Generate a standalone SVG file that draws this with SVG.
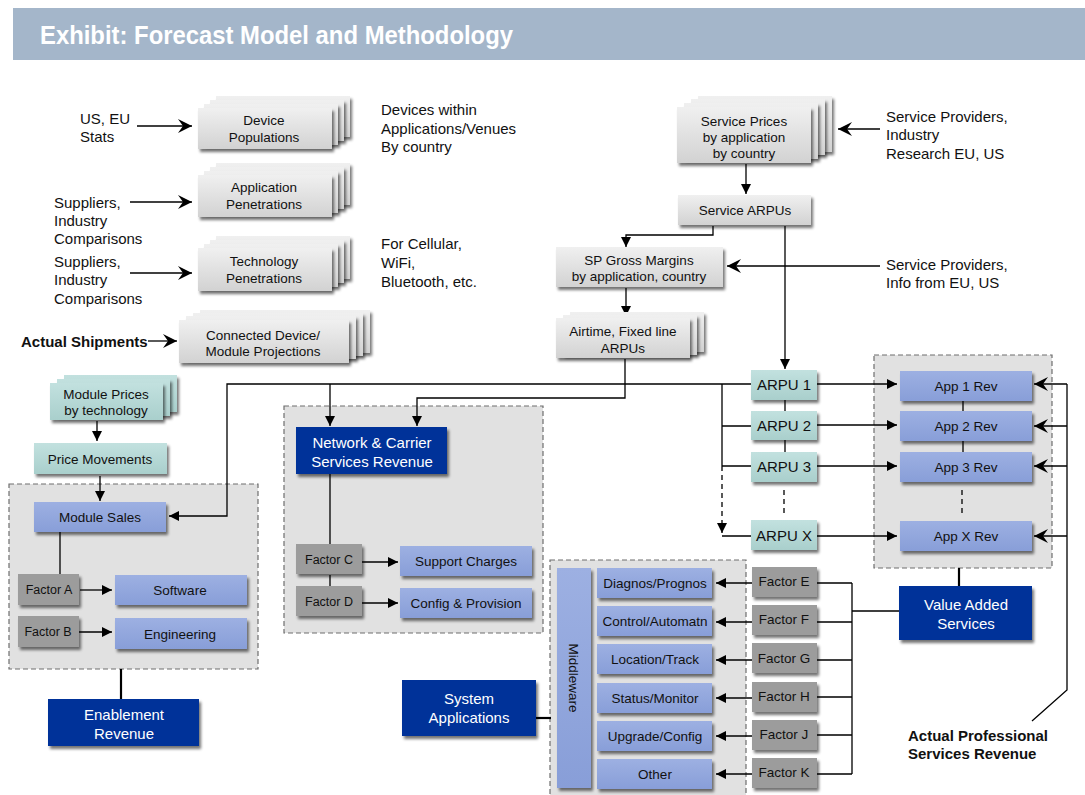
<svg xmlns="http://www.w3.org/2000/svg" width="1085" height="795" viewBox="0 0 1085 795">
  <defs>
    <linearGradient id="gGray" x1="0" y1="0" x2="0" y2="1">
      <stop offset="0" stop-color="#f0f0f0"/>
      <stop offset="1" stop-color="#d2d2d2"/>
    </linearGradient>
    <linearGradient id="gTeal" x1="0" y1="0" x2="0" y2="1">
      <stop offset="0" stop-color="#c2e1df"/>
      <stop offset="1" stop-color="#a9cfcc"/>
    </linearGradient>
    <linearGradient id="gBlue" x1="0" y1="0" x2="0" y2="1">
      <stop offset="0" stop-color="#9db0e2"/>
      <stop offset="1" stop-color="#889ed8"/>
    </linearGradient>
    <filter id="shadow" x="-10%" y="-20%" width="130%" height="160%">
      <feGaussianBlur in="SourceAlpha" stdDeviation="1.8"/>
      <feOffset dx="2" dy="3" result="b"/>
      <feComponentTransfer><feFuncA type="linear" slope="0.55"/></feComponentTransfer>
      <feMerge><feMergeNode/><feMergeNode in="SourceGraphic"/></feMerge>
    </filter>
    <marker id="tri" viewBox="0 0 10 10" refX="10" refY="5" markerWidth="10" markerHeight="10" markerUnits="userSpaceOnUse" orient="auto">
      <path d="M0,0 L10,5 L0,10 z" fill="#000"/>
    </marker>
    <marker id="chev" viewBox="0 0 14 14" refX="14" refY="7" markerWidth="14" markerHeight="14" markerUnits="userSpaceOnUse" orient="auto">
      <path d="M0,0 L14,7 L0,14 L5,7 z" fill="#000"/>
    </marker>
  </defs>
  <style>
    text { font-family: "Liberation Sans", Arial, sans-serif; fill: #111; }
    .c { text-anchor: middle; }
    .b13 { font-size: 13.5px; }
    .b15 { font-size: 15px; }
    .lbl { font-size: 15px; }
    .bold { font-weight: bold; }
    .w { fill: #fff; }
    .gray { fill: url(#gGray); filter: url(#shadow); }
    .teal { fill: url(#gTeal); filter: url(#shadow); }
    .blue { fill: url(#gBlue); filter: url(#shadow); }
    .dark { fill: #003399; filter: url(#shadow); }
    .fac { fill: #9c9c9c; filter: url(#shadow); }
    .cont { fill: #e1e1e1; stroke: #6e6e6e; stroke-width: 1.2; stroke-dasharray: 5 3; }
    .ln { fill: none; stroke: #000; stroke-width: 1.3; }
    .thick { fill: none; stroke: #000; stroke-width: 2.2; }
    .dash { fill: none; stroke: #000; stroke-width: 1.3; stroke-dasharray: 5 4; }
    .arr { marker-end: url(#tri); }
    .chv { marker-end: url(#chev); }
  </style>

  <!-- title banner -->
  <g id="title">
    <rect x="13" y="8" width="1072" height="52" fill="#a4b6ca"/>
    <text x="40" y="44" font-family="'Open Sans', sans-serif" font-weight="600" font-size="25" style="fill:#fff" textLength="473" lengthAdjust="spacingAndGlyphs">Exhibit: Forecast Model and Methodology</text>
  </g>

  <!-- dashed containers -->
  <g id="containers">
    <rect class="cont" x="9" y="484" width="249" height="185"/>
    <rect class="cont" x="284" y="406" width="259" height="227"/>
    <rect class="cont" x="874" y="355" width="178" height="213"/>
    <rect class="cont" x="550" y="560" width="196" height="245"/>
  </g>

  <!-- source labels -->
  <g id="labels">
    <text class="lbl" x="80" y="124">US, EU</text>
    <text class="lbl" x="80" y="142">Stats</text>
    <text class="lbl" x="54" y="208">Suppliers,</text>
    <text class="lbl" x="54" y="226">Industry</text>
    <text class="lbl" x="54" y="244">Comparisons</text>
    <text class="lbl" x="54" y="267">Suppliers,</text>
    <text class="lbl" x="54" y="285">Industry</text>
    <text class="lbl" x="54" y="304">Comparisons</text>
    <text class="lbl bold" x="21" y="347" font-size="14.5">Actual Shipments</text>
    <text class="lbl" x="381" y="115">Devices within</text>
    <text class="lbl" x="381" y="134">Applications/Venues</text>
    <text class="lbl" x="381" y="152">By country</text>
    <text class="lbl" x="381" y="249">For Cellular,</text>
    <text class="lbl" x="381" y="268">WiFi,</text>
    <text class="lbl" x="381" y="287">Bluetooth, etc.</text>
    <text class="lbl" x="886" y="122">Service Providers,</text>
    <text class="lbl" x="886" y="140">Industry</text>
    <text class="lbl" x="886" y="159">Research EU, US</text>
    <text class="lbl" x="886" y="270">Service Providers,</text>
    <text class="lbl" x="886" y="288">Info from EU, US</text>
    <text class="lbl bold" x="908" y="741">Actual Professional</text>
    <text class="lbl bold" x="908" y="759">Services Revenue</text>
  </g>

  <!-- connectors -->
  <g id="connectors">
    <path class="ln chv" d="M137,126 H192"/>
    <path class="ln chv" d="M130,202 H192"/>
    <path class="ln chv" d="M130,273 H192"/>
    <path class="ln chv" d="M148,341 H177"/>
    <path class="ln chv" d="M880,129 H838"/>
    <path class="ln chv" d="M880,266 H727"/>
    <path class="ln arr" d="M746,164 V194"/>
    <path class="ln arr" d="M713,226 V235 H626 V247"/>
    <path class="ln arr" d="M785,226 V369"/>
    <path class="ln arr" d="M626,288 V316"/>
    <path class="ln arr" d="M625,359 V398 H417 V426"/>
    <path class="ln arr" d="M752,384 H227 V516 H169"/>
    <path class="ln arr" d="M330,384 V426"/>
    <path class="ln" d="M722,384 V466 M722,426 H752 M722,466 H752 M722,536 H752"/>
    <path class="dash arr" d="M722,466 V533"/>
    <path class="ln" d="M785,400 V452"/>
    <path class="dash" d="M784,490 V513"/>
    <path class="ln arr" d="M817,384 H897"/>
    <path class="ln arr" d="M817,425 H897"/>
    <path class="ln arr" d="M817,466 H897"/>
    <path class="ln arr" d="M817,536 H897"/>
    <path class="ln" d="M963,401 V452"/>
    <path class="dash" d="M962,490 V513"/>
    <path class="ln" d="M1032,721 L1067,690 V384"/>
    <path class="ln chv" d="M1067,384 H1034"/>
    <path class="ln chv" d="M1067,426 H1034"/>
    <path class="ln chv" d="M1067,466 H1034"/>
    <path class="ln chv" d="M1067,536 H1034"/>
    <path class="thick" d="M959,568 V586"/>
    <path class="ln" d="M899,611 H852 M852,583 V774 M817,583 H852 M817,622 H852 M817,660 H852 M817,697 H852 M817,735 H852 M817,774 H852"/>
    <path class="ln arr" d="M752,583 H716"/>
    <path class="ln arr" d="M752,622 H716"/>
    <path class="ln arr" d="M752,660 H716"/>
    <path class="ln arr" d="M752,698 H716"/>
    <path class="ln arr" d="M752,736 H716"/>
    <path class="ln arr" d="M752,774 H716"/>
    <path class="thick" d="M536,718 H551"/>
    <path class="ln arr" d="M97,421 V441"/>
    <path class="ln arr" d="M100,476 V501"/>
    <path class="ln" d="M60,532 V574"/>
    <path class="ln arr" d="M80,590 H112"/>
    <path class="ln arr" d="M78,632 H112"/>
    <path class="thick" d="M121,669 V699"/>
    <path class="ln" d="M330,474 V544 M330,575 V586"/>
    <path class="ln arr" d="M362,562 H398"/>
    <path class="ln arr" d="M362,603 H398"/>
  </g>

  <!-- stacked source nodes -->
  <g id="device-populations">
    <rect class="gray" x="216" y="96" width="134" height="41"/>
    <rect class="gray" x="210" y="100" width="134" height="41"/>
    <rect class="gray" x="204" y="104" width="134" height="41"/>
    <rect class="gray" x="198" y="108" width="134" height="41"/>
    <text class="b13 c" x="264" y="125">Device</text>
    <text class="b13 c" x="264" y="142">Populations</text>
  </g>
  <g id="application-penetrations">
    <rect class="gray" x="216" y="163" width="134" height="42"/>
    <rect class="gray" x="210" y="167" width="134" height="42"/>
    <rect class="gray" x="204" y="171" width="134" height="42"/>
    <rect class="gray" x="198" y="175" width="134" height="42"/>
    <text class="b13 c" x="264" y="192">Application</text>
    <text class="b13 c" x="264" y="209">Penetrations</text>
  </g>
  <g id="technology-penetrations">
    <rect class="gray" x="216" y="236" width="134" height="43"/>
    <rect class="gray" x="210" y="240" width="134" height="43"/>
    <rect class="gray" x="204" y="244" width="134" height="43"/>
    <rect class="gray" x="198" y="248" width="134" height="43"/>
    <text class="b13 c" x="264" y="266">Technology</text>
    <text class="b13 c" x="264" y="283">Penetrations</text>
  </g>
  <g id="connected-device">
    <rect class="gray" x="200" y="310" width="170" height="43"/>
    <rect class="gray" x="193" y="313" width="170" height="43"/>
    <rect class="gray" x="186" y="316" width="170" height="43"/>
    <rect class="gray" x="179" y="320" width="170" height="43"/>
    <text class="b13 c" x="263" y="340">Connected Device/</text>
    <text class="b13 c" x="263" y="356">Module Projections</text>
  </g>
  <g id="service-prices">
    <rect class="gray" x="698" y="96" width="134" height="56"/>
    <rect class="gray" x="691" y="99" width="134" height="56"/>
    <rect class="gray" x="684" y="103" width="134" height="56"/>
    <rect class="gray" x="677" y="107" width="134" height="56"/>
    <text class="b13 c" x="744" y="126">Service Prices</text>
    <text class="b13 c" x="744" y="142">by application</text>
    <text class="b13 c" x="744" y="158">by country</text>
  </g>
  <g id="service-arpus">
    <rect class="gray" x="678" y="195" width="133" height="30"/>
    <text class="b13 c" x="745" y="215">Service ARPUs</text>
  </g>
  <g id="sp-gross-margins">
    <rect class="gray" x="556" y="247" width="167" height="40"/>
    <text class="b13 c" x="639" y="265">SP Gross Margins</text>
    <text class="b13 c" x="639" y="281">by application, country</text>
  </g>
  <g id="airtime-arpus">
    <rect class="gray" x="570" y="312" width="134" height="40"/>
    <rect class="gray" x="563" y="315" width="134" height="40"/>
    <rect class="gray" x="556" y="318" width="134" height="40"/>
    <text class="b13 c" x="623" y="336">Airtime, Fixed line</text>
    <text class="b13 c" x="623" y="353">ARPUs</text>
  </g>

  <!-- enablement branch -->
  <g id="module-prices">
    <rect class="teal" x="64" y="375" width="113" height="37"/>
    <rect class="teal" x="57" y="379" width="113" height="37"/>
    <rect class="teal" x="50" y="383" width="113" height="37"/>
    <text class="b13 c" x="106" y="399">Module Prices</text>
    <text class="b13 c" x="106" y="415">by technology</text>
  </g>
  <g id="price-movements">
    <rect class="teal" x="34" y="443" width="133" height="31"/>
    <text class="b13 c" x="100" y="464">Price Movements</text>
  </g>
  <g id="module-sales">
    <rect class="blue" x="34" y="502" width="132" height="30"/>
    <text class="b13 c" x="100" y="522">Module Sales</text>
  </g>
  <g id="factor-a">
    <rect class="fac" x="18" y="574" width="61" height="31"/>
    <text class="c" font-size="12.5" x="49" y="594">Factor A</text>
  </g>
  <g id="factor-b">
    <rect class="fac" x="18" y="616" width="61" height="31"/>
    <text class="c" font-size="12.5" x="48" y="636">Factor B</text>
  </g>
  <g id="software">
    <rect class="blue" x="115" y="575" width="132" height="30"/>
    <text class="b13 c" x="180" y="595">Software</text>
  </g>
  <g id="engineering">
    <rect class="blue" x="115" y="618" width="132" height="31"/>
    <text class="b13 c" x="180" y="639">Engineering</text>
  </g>
  <g id="enablement-revenue">
    <rect class="dark" x="48" y="699" width="151" height="47"/>
    <text class="b15 c w" x="124" y="720">Enablement</text>
    <text class="b15 c w" x="124" y="739">Revenue</text>
  </g>

  <!-- network & carrier branch -->
  <g id="network-revenue">
    <rect class="dark" x="296" y="427" width="151" height="47"/>
    <text class="b15 c w" x="372" y="448">Network &amp; Carrier</text>
    <text class="b15 c w" x="372" y="467">Services Revenue</text>
  </g>
  <g id="factor-c">
    <rect class="fac" x="296" y="544" width="66" height="30"/>
    <text class="c" font-size="12.5" x="329" y="564">Factor C</text>
  </g>
  <g id="factor-d">
    <rect class="fac" x="296" y="586" width="66" height="30"/>
    <text class="c" font-size="12.5" x="329" y="606">Factor D</text>
  </g>
  <g id="support-charges">
    <rect class="blue" x="400" y="546" width="132" height="30"/>
    <text class="b13 c" x="466" y="566">Support Charges</text>
  </g>
  <g id="config-provision">
    <rect class="blue" x="400" y="588" width="132" height="30"/>
    <text class="b13 c" x="466" y="608">Config &amp; Provision</text>
  </g>

  <!-- ARPU and application revenue -->
  <g id="arpu-1"><rect class="teal" x="751" y="370" width="66" height="30"/><text class="b15 c" x="784" y="390">ARPU 1</text></g>
  <g id="arpu-2"><rect class="teal" x="751" y="411" width="66" height="29"/><text class="b15 c" x="784" y="431">ARPU 2</text></g>
  <g id="arpu-3"><rect class="teal" x="751" y="452" width="66" height="30"/><text class="b15 c" x="784" y="472">ARPU 3</text></g>
  <g id="arpu-x"><rect class="teal" x="751" y="520" width="66" height="30"/><text class="b15 c" x="784" y="541">ARPU X</text></g>
  <g id="app-1"><rect class="blue" x="900" y="371" width="132" height="30"/><text class="b13 c" x="966" y="391">App 1 Rev</text></g>
  <g id="app-2"><rect class="blue" x="900" y="411" width="132" height="30"/><text class="b13 c" x="966" y="431">App 2 Rev</text></g>
  <g id="app-3"><rect class="blue" x="900" y="452" width="132" height="30"/><text class="b13 c" x="966" y="472">App 3 Rev</text></g>
  <g id="app-x"><rect class="blue" x="900" y="521" width="132" height="30"/><text class="b13 c" x="966" y="541">App X Rev</text></g>
  <g id="value-added">
    <rect class="dark" x="899" y="586" width="133" height="54"/>
    <text class="b15 c w" x="966" y="610">Value Added</text>
    <text class="b15 c w" x="966" y="629">Services</text>
  </g>

  <!-- system applications -->
  <g id="system-applications">
    <rect class="dark" x="402" y="680" width="134" height="56"/>
    <text class="b15 c w" x="469" y="704">System</text>
    <text class="b15 c w" x="469" y="723">Applications</text>
  </g>
  <g id="middleware">
    <rect class="blue" x="557" y="568" width="34" height="220"/>
    <text class="b13 c" transform="translate(569,678) rotate(90)">Middleware</text>
  </g>
  <g id="diagnos"><rect class="blue" x="597" y="568" width="115" height="30"/><text class="b13 c" x="655" y="588">Diagnos/Prognos</text></g>
  <g id="control"><rect class="blue" x="597" y="606" width="115" height="30"/><text class="b13 c" x="655" y="626">Control/Automatn</text></g>
  <g id="location"><rect class="blue" x="597" y="644" width="115" height="30"/><text class="b13 c" x="655" y="664">Location/Track</text></g>
  <g id="status"><rect class="blue" x="597" y="683" width="115" height="30"/><text class="b13 c" x="655" y="703">Status/Monitor</text></g>
  <g id="upgrade"><rect class="blue" x="597" y="721" width="115" height="30"/><text class="b13 c" x="655" y="741">Upgrade/Config</text></g>
  <g id="other"><rect class="blue" x="597" y="759" width="115" height="30"/><text class="b13 c" x="655" y="779">Other</text></g>
  <g id="factor-e"><rect class="fac" x="752" y="567" width="65" height="30"/><text class="b13 c" x="784" y="586">Factor E</text></g>
  <g id="factor-f"><rect class="fac" x="752" y="605" width="65" height="30"/><text class="b13 c" x="784" y="624">Factor F</text></g>
  <g id="factor-g"><rect class="fac" x="752" y="643" width="65" height="30"/><text class="b13 c" x="784" y="663">Factor G</text></g>
  <g id="factor-h"><rect class="fac" x="752" y="682" width="65" height="30"/><text class="b13 c" x="784" y="701">Factor H</text></g>
  <g id="factor-j"><rect class="fac" x="752" y="720" width="65" height="30"/><text class="b13 c" x="784" y="739">Factor J</text></g>
  <g id="factor-k"><rect class="fac" x="752" y="758" width="65" height="30"/><text class="b13 c" x="784" y="777">Factor K</text></g>
</svg>
